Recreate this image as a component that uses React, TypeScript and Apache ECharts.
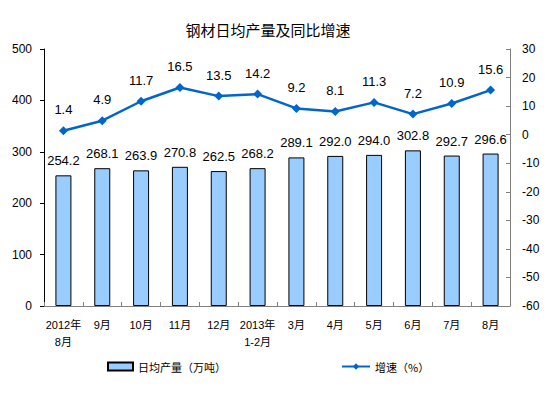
import React, { useEffect, useRef } from "react";
import * as echarts from "echarts";

const categories = ["2012年\n8月", "9月", "10月", "11月", "12月", "2013年\n1-2月", "3月", "4月", "5月", "6月", "7月", "8月"];
const output = [254.2, 268.1, 263.9, 270.8, 262.5, 268.2, 289.1, 292.0, 294.0, 302.8, 292.7, 296.6];
const growth = [1.4, 4.9, 11.7, 16.5, 13.5, 14.2, 9.2, 8.1, 11.3, 7.2, 10.9, 15.6];

const FONT = "Liberation Sans, Arial, Noto Sans CJK SC, sans-serif";
const CJK = "Noto Sans CJK SC, sans-serif";

export default function App() {
  const ref = useRef<HTMLDivElement>(null);
  useEffect(() => {
    if (!ref.current) return;
    const chart = echarts.init(ref.current, undefined, { renderer: "svg" });
    chart.setOption({
      animation: false,
      backgroundColor: "#ffffff",
      title: {
        text: "钢材日均产量及同比增速",
        left: 263,
        textAlign: "center",
        top: 17,
        textStyle: { fontFamily: CJK, fontSize: 15, fontWeight: "normal", color: "#000" },
      },
      legend: [
        {
          data: [{ name: "日均产量（万吨）", icon: "rect" }],
          left: 102,
          top: 356,
          itemWidth: 25,
          itemHeight: 8,
          itemGap: 5,
          textStyle: { fontFamily: CJK, fontSize: 11, color: "#000" },
        },
        {
          data: ["增速（%）"],
          left: 336,
          top: 356,
          itemWidth: 28,
          itemHeight: 8,
          textStyle: { fontFamily: CJK, fontSize: 11, color: "#000" },
        },
      ],
      grid: { left: 44, right: 49, top: 49, bottom: 92, containLabel: false },
      xAxis: {
        type: "category",
        data: categories,
        axisLine: { lineStyle: { color: "#808080", width: 1 } },
        axisTick: { show: true, inside: true, length: 4, alignWithLabel: false, lineStyle: { color: "#808080" } },
        axisLabel: { interval: 0, fontFamily: FONT, fontSize: 11, color: "#000", margin: 10, lineHeight: 17 },
      },
      yAxis: [
        {
          type: "value",
          min: 0,
          max: 500,
          interval: 100,
          splitLine: { show: false },
          axisLine: { show: true, lineStyle: { color: "#000" } },
          axisTick: { show: true, length: 4, lineStyle: { color: "#000" } },
          axisLabel: { fontFamily: FONT, fontSize: 12, color: "#000", margin: 12 },
        },
        {
          type: "value",
          min: -60,
          max: 30,
          interval: 10,
          position: "right",
          splitLine: { show: false },
          axisLine: { show: true, lineStyle: { color: "#808080" } },
          axisTick: { show: true, inside: true, length: 4, lineStyle: { color: "#808080" } },
          axisLabel: { fontFamily: FONT, fontSize: 12, color: "#000", margin: 12 },
        },
      ],
      series: [
        {
          name: "日均产量（万吨）",
          type: "bar",
          data: output,
          barWidth: 16,
          itemStyle: { color: "#99CCFF", borderColor: "#000", borderWidth: 1 },
          label: {
            show: true,
            position: "top",
            distance: 8,
            fontFamily: FONT,
            fontSize: 13,
            color: "#000",
            formatter: (p: any) => Number(p.value).toFixed(1),
          },
        },
        {
          name: "增速（%）",
          type: "line",
          yAxisIndex: 1,
          data: growth,
          symbol: "diamond",
          symbolSize: 9,
          lineStyle: { color: "#0066CC", width: 2.5 },
          itemStyle: { color: "#0066CC" },
          label: {
            show: true,
            position: "top",
            distance: 10,
            fontFamily: FONT,
            fontSize: 13,
            color: "#000",
            formatter: (p: any) => Number(p.value).toFixed(1),
          },
        },
      ],
    });
    return () => chart.dispose();
  }, []);
  return <div ref={ref} style={{ width: 559, height: 398, position: "absolute", left: 0, top: 0 }} />;
}
